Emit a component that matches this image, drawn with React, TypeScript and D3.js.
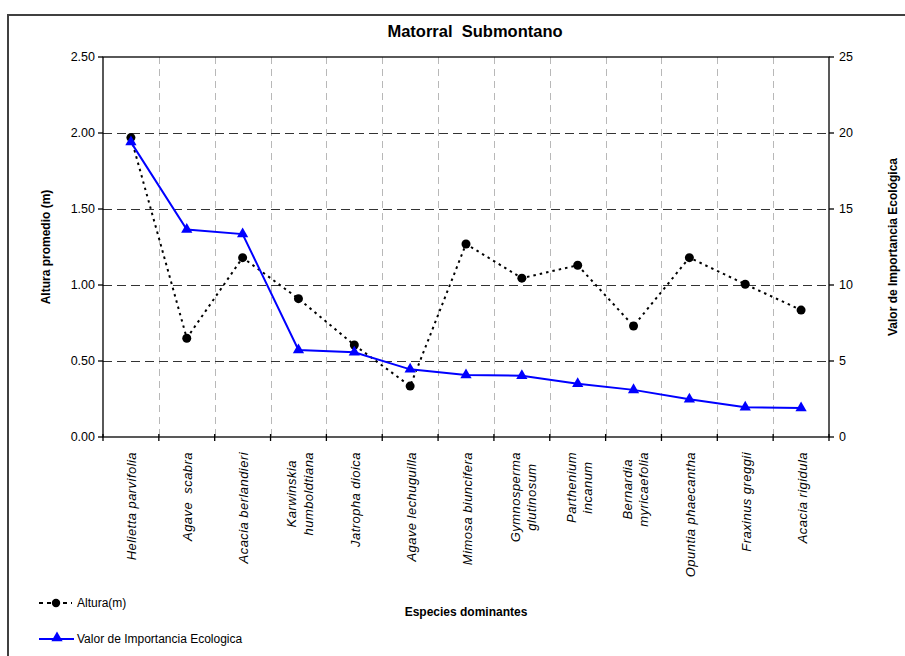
import React, { useEffect, useRef } from 'react';
import * as d3 from 'd3';

const species: string[] = [
  'Helietta parvifolia',
  'Agave  scabra',
  'Acacia berlandieri',
  'Karwinskia\nhumboldtiana',
  'Jatropha dioica',
  'Agave lechuguilla',
  'Mimosa biuncifera',
  'Gymnosperma\nglutinosum',
  'Parthenium\nincanum',
  'Bernardia\nmyricaefolia',
  'Opuntia phaecantha',
  'Fraxinus greggii',
  'Acacia rigidula',
];
const altura: number[] = [1.97, 0.65, 1.18, 0.91, 0.605, 0.335, 1.27, 1.045, 1.13, 0.73, 1.18, 1.005, 0.835];
const vie: number[] = [19.4, 13.65, 13.35, 5.72, 5.57, 4.45, 4.08, 4.03, 3.5, 3.1, 2.48, 1.95, 1.9];
const leftTicks: number[] = [0, 0.5, 1, 1.5, 2, 2.5];
const rightTicks: number[] = [0, 5, 10, 15, 20, 25];

const FONT = '"Liberation Sans", Arial, sans-serif';

export default function App() {
  const ref = useRef<SVGSVGElement | null>(null);

  useEffect(() => {
    const svg = d3.select(ref.current);
    svg.selectAll('*').remove();
    const L = 103, R = 829, T = 57, B = 437;
    const x = d3.scaleBand<string>().domain(species).range([L, R]);
    const yL = d3.scaleLinear().domain([0, 2.5]).range([B, T]);
    const yR = d3.scaleLinear().domain([0, 25]).range([B, T]);

    svg.append('rect').attr('width', 905).attr('height', 656).attr('fill', '#fff');
    // frame
    svg.append('rect').attr('x', 8).attr('y', 15).attr('width', 920).attr('height', 700)
      .attr('fill', 'none').attr('stroke', '#404040').attr('stroke-width', 2);

    // title
    svg.append('text').attr('x', 475).attr('y', 37).attr('text-anchor', 'middle')
      .attr('font-family', FONT).attr('font-weight', 'bold').attr('font-size', 16.5)
      .attr('xml:space', 'preserve').text('Matorral  Submontano');

    // vertical grid
    const bounds = d3.range(species.length + 1).map(i => L + i * x.step());
    svg.append('g').selectAll('line').data(bounds.slice(1, -1)).join('line')
      .attr('x1', d => Math.round(d) + 0.5).attr('x2', d => Math.round(d) + 0.5).attr('y1', T).attr('y2', B)
      .attr('stroke', '#b8b8b8').attr('stroke-width', 1).attr('stroke-dasharray', '7,5');
    // horizontal grid
    svg.append('g').selectAll('line').data(leftTicks.slice(1, -1)).join('line')
      .attr('x1', L).attr('x2', R).attr('y1', d => Math.round(yL(d)) + 0.5).attr('y2', d => Math.round(yL(d)) + 0.5)
      .attr('stroke', '#333').attr('stroke-width', 1.2).attr('stroke-dasharray', '9,5');

    // plot box
    svg.append('rect').attr('x', L).attr('y', T).attr('width', R - L).attr('height', B - T)
      .attr('fill', 'none').attr('stroke', '#000').attr('stroke-width', 1.3);

    // left ticks
    const gl = svg.append('g');
    gl.selectAll('line').data(leftTicks).join('line')
      .attr('x1', L - 5).attr('x2', L).attr('y1', d => yL(d)).attr('y2', d => yL(d))
      .attr('stroke', '#000').attr('stroke-width', 1.3);
    gl.selectAll('text').data(leftTicks).join('text')
      .attr('x', L - 8).attr('y', d => yL(d)).attr('dy', '0.35em').attr('text-anchor', 'end')
      .attr('font-family', FONT).attr('font-size', 12.5).text(d => d3.format('.2f')(d));
    // right ticks
    const gr = svg.append('g');
    gr.selectAll('line').data(rightTicks).join('line')
      .attr('x1', R).attr('x2', R + 5).attr('y1', d => yR(d)).attr('y2', d => yR(d))
      .attr('stroke', '#000').attr('stroke-width', 1.3);
    gr.selectAll('text').data(rightTicks).join('text')
      .attr('x', R + 10).attr('y', d => yR(d)).attr('dy', '0.35em').attr('text-anchor', 'start')
      .attr('font-family', FONT).attr('font-size', 12.5).text(d => String(d));
    // bottom ticks
    svg.append('g').selectAll('line').data(bounds).join('line')
      .attr('x1', d => d).attr('x2', d => d).attr('y1', B - 3).attr('y2', B + 4)
      .attr('stroke', '#000').attr('stroke-width', 1.3);

    // x labels
    const gx = svg.append('g');
    species.forEach(s => {
      const lines = s.split('\n');
      const cx = (x(s) as number) + x.bandwidth() / 2;
      const g = gx.append('g').attr('transform', `translate(${cx},452) rotate(-90)`);
      if (lines.length === 1) {
        g.append('text').attr('x', 0).attr('y', 5.5).attr('text-anchor', 'end')
          .attr('font-family', FONT).attr('font-style', 'italic').attr('font-size', 13)
          .attr('letter-spacing', 0.45)
          .attr('xml:space', 'preserve').text(lines[0]);
      } else {
        const t = g.append('text').attr('text-anchor', 'middle')
          .attr('font-family', FONT).attr('font-style', 'italic').attr('font-size', 13)
          .attr('letter-spacing', 0.45);
        const spans = lines.map((ln, i) => t.append('tspan').attr('x', 0).attr('y', -2 + i * 16.5).text(ln));
        let maxW = 0;
        spans.forEach(sp => { const n = sp.node() as SVGTextContentElement; maxW = Math.max(maxW, n.getComputedTextLength()); });
        spans.forEach(sp => sp.attr('x', -maxW / 2));
      }
    });

    // lines
    const lineA = d3.line<number>().x((_, i) => (x(species[i]) as number) + x.bandwidth() / 2).y(d => yL(d));
    const lineV = d3.line<number>().x((_, i) => (x(species[i]) as number) + x.bandwidth() / 2).y(d => yR(d));
    svg.append('path').attr('d', lineA(altura)).attr('fill', 'none').attr('stroke', '#000')
      .attr('stroke-width', 2).attr('stroke-dasharray', '2.5,4');
    svg.append('g').selectAll('circle').data(altura).join('circle')
      .attr('cx', (_, i) => (x(species[i]) as number) + x.bandwidth() / 2).attr('cy', d => yL(d))
      .attr('r', 4.5).attr('fill', '#000');
    svg.append('path').attr('d', lineV(vie)).attr('fill', 'none').attr('stroke', '#0000ff').attr('stroke-width', 2);
    const tri = d3.symbol().type(d3.symbolTriangle).size(55);
    svg.append('g').selectAll('path').data(vie).join('path')
      .attr('transform', (d, i) => `translate(${(x(species[i]) as number) + x.bandwidth() / 2},${yR(d)})`)
      .attr('d', tri()).attr('fill', '#0000ff');

    // axis titles
    svg.append('text').attr('transform', `translate(50,${(T + B) / 2}) rotate(-90)`).attr('text-anchor', 'middle')
      .attr('font-family', FONT).attr('font-weight', 'bold').attr('font-size', 12).text('Altura promedio (m)');
    svg.append('text').attr('transform', `translate(897,${(T + B) / 2}) rotate(-90)`).attr('text-anchor', 'middle')
      .attr('font-family', FONT).attr('font-weight', 'bold').attr('font-size', 12).text('Valor de Importancia Ecológica');
    svg.append('text').attr('x', (L + R) / 2).attr('y', 616).attr('text-anchor', 'middle')
      .attr('font-family', FONT).attr('font-weight', 'bold').attr('font-size', 12).text('Especies dominantes');

    // legend
    svg.append('line').attr('x1', 39).attr('x2', 72).attr('y1', 603).attr('y2', 603)
      .attr('stroke', '#000').attr('stroke-width', 2).attr('stroke-dasharray', '4,4');
    svg.append('circle').attr('cx', 56).attr('cy', 603).attr('r', 4.2).attr('fill', '#000');
    svg.append('text').attr('x', 77).attr('y', 603).attr('dy', '0.35em').attr('font-family', FONT).attr('font-size', 12).text('Altura(m)');
    svg.append('line').attr('x1', 39).attr('x2', 74).attr('y1', 639).attr('y2', 639)
      .attr('stroke', '#0000ff').attr('stroke-width', 2);
    svg.append('path').attr('transform', 'translate(57,638)').attr('d', tri()).attr('fill', '#0000ff');
    svg.append('text').attr('x', 77).attr('y', 639).attr('dy', '0.35em').attr('font-family', FONT).attr('font-size', 12).text('Valor de Importancia Ecologica');
  }, []);

  return (
    <svg ref={ref} width={905} height={656}
      style={{ position: 'absolute', left: 0, top: 0, display: 'block' }} />
  );
}
